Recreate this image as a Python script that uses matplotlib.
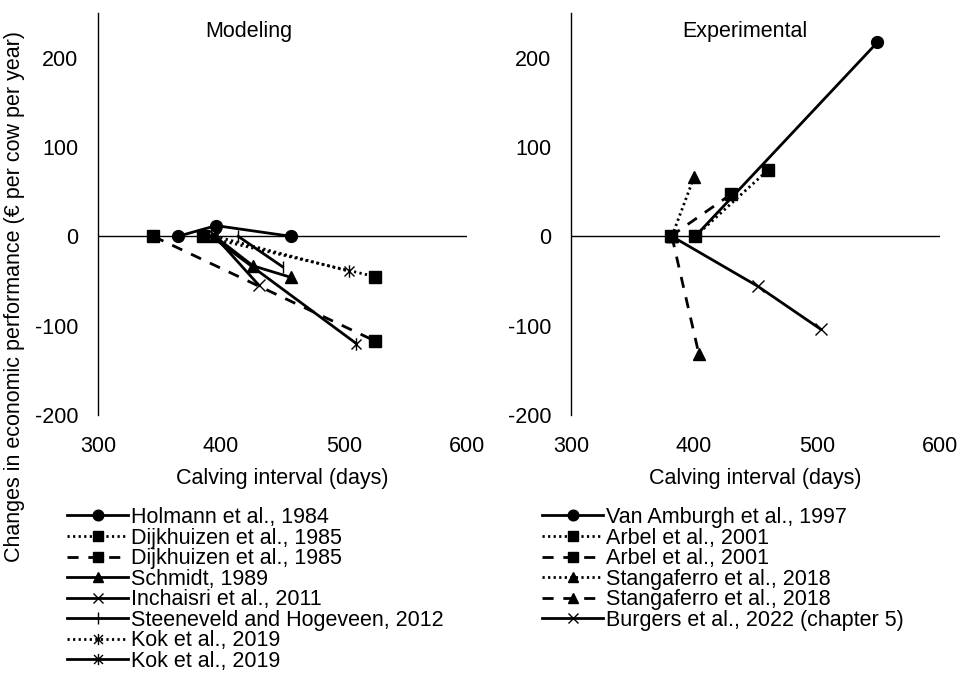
import matplotlib
matplotlib.use("Agg")
import matplotlib.pyplot as plt
from matplotlib.path import Path

plt.rcParams['font.family'] = ['Liberation Sans', 'DejaVu Sans']
plt.rcParams['axes.unicode_minus'] = False

# ---------------- data ----------------
x_ticks = [300, 400, 500, 600]
y_ticks = [-200, -100, 0, 100, 200]

# Modeling panel
holmann_x = [365, 396, 457]
holmann_y = [0, 12, 0]
dijk_dot_x = [385, 525]
dijk_dot_y = [0, -45]
dijk_dash_x = [345, 525]
dijk_dash_y = [0, -117]
schmidt_x = [395, 426, 457]
schmidt_y = [0, -33, -46]
inchaisri_x = [395, 431]
inchaisri_y = [0, -55]
steeneveld_x = [414, 450]
steeneveld_y = [0, -34]
kok_dot_x = [395, 504]
kok_dot_y = [0, -39]
kok_sol_x = [392, 510]
kok_sol_y = [0, -120]

# Experimental panel
vanamb_x = [401, 549]
vanamb_y = [0, 217]
arbel_dot_x = [401, 460]
arbel_dot_y = [0, 74]
arbel_dash_x = [381, 430]
arbel_dash_y = [0, 47]
stang_dot_x = [382, 400]
stang_dot_y = [0, 66]
stang_dash_x = [382, 404]
stang_dash_y = [0, -132]
burgers_x = [382, 452, 503]
burgers_y = [0, -56, -104]

model_labels = ["Holmann et al., 1984", "Dijkhuizen et al., 1985", "Dijkhuizen et al., 1985",
                "Schmidt, 1989", "Inchaisri et al., 2011", "Steeneveld and Hogeveen, 2012",
                "Kok et al., 2019", "Kok et al., 2019"]
exp_labels = ["Van Amburgh et al., 1997", "Arbel et al., 2001", "Arbel et al., 2001",
              "Stangaferro et al., 2018", "Stangaferro et al., 2018", "Burgers et al., 2022 (chapter 5)"]

# ---------------- styles ----------------
star = Path([(0, -1), (0, 1), (-0.8, -0.8), (0.8, 0.8), (-0.8, 0.8), (0.8, -0.8)],
            [Path.MOVETO, Path.LINETO, Path.MOVETO, Path.LINETO, Path.MOVETO, Path.LINETO])
DOT = (0, (0.8, 1.2))
DASH = (0, (4, 3.5))
LW = 2.0
FS = 15.5

fig = plt.figure(figsize=(9.66, 6.82), dpi=100)
axL = fig.add_axes([98/966, 1-415/682, 369/966, 402/682])
axR = fig.add_axes([571/966, 1-415/682, 369/966, 402/682])

def style_axis(ax):
    ax.set_xlim(300, 600)
    ax.set_ylim(-200, 250)
    ax.set_xticks(x_ticks)
    ax.set_yticks(y_ticks)
    for s in ['top', 'right', 'bottom']:
        ax.spines[s].set_visible(False)
    ax.spines['left'].set_linewidth(1.0)
    ax.axhline(0, color='black', lw=1.0, zorder=1)
    ax.tick_params(axis='both', length=0, labelsize=FS)
    ax.tick_params(axis='x', pad=15)
    ax.tick_params(axis='y', pad=14)
    ax.set_xlabel("Calving interval (days)", fontsize=FS, labelpad=8)

style_axis(axL)
style_axis(axR)

def plot(ax, x, y, ls, marker, label, ms=8, mew=1.0):
    return ax.plot(x, y, color='black', lw=LW, linestyle=ls, marker=marker, ms=ms,
                   mfc='black', mec='black', mew=mew, label=label, zorder=3)[0]

hL = []
hL.append(plot(axL, holmann_x, holmann_y, '-', 'o', model_labels[0], ms=8.5))
hL.append(plot(axL, dijk_dot_x, dijk_dot_y, DOT, 's', model_labels[1], ms=8.5))
hL.append(plot(axL, dijk_dash_x, dijk_dash_y, DASH, 's', model_labels[2], ms=8.5))
hL.append(plot(axL, schmidt_x, schmidt_y, '-', '^', model_labels[3], ms=8.5))
hL.append(plot(axL, inchaisri_x, inchaisri_y, '-', 'x', model_labels[4], ms=8))
hL.append(plot(axL, steeneveld_x, steeneveld_y, '-', '|', model_labels[5], ms=9))
hL.append(plot(axL, kok_dot_x, kok_dot_y, DOT, star, model_labels[6], ms=9))
hL.append(plot(axL, kok_sol_x, kok_sol_y, '-', star, model_labels[7], ms=9))

hR = []
hR.append(plot(axR, vanamb_x, vanamb_y, '-', 'o', exp_labels[0], ms=8.5))
hR.append(plot(axR, arbel_dot_x, arbel_dot_y, DOT, 's', exp_labels[1], ms=8.5))
hR.append(plot(axR, arbel_dash_x, arbel_dash_y, DASH, 's', exp_labels[2], ms=8.5))
hR.append(plot(axR, stang_dot_x, stang_dot_y, DOT, '^', exp_labels[3], ms=8.5))
hR.append(plot(axR, stang_dash_x, stang_dash_y, DASH, '^', exp_labels[4], ms=8.5))
hR.append(plot(axR, burgers_x, burgers_y, '-', 'x', exp_labels[5], ms=8))

axL.text(0.409, 0.955, "Modeling", transform=axL.transAxes, ha='center', va='center', fontsize=FS)
axR.text(0.472, 0.955, "Experimental", transform=axR.transAxes, ha='center', va='center', fontsize=FS)

fig.text(15/966, 1-297/682, "Changes in economic performance (€ per cow per year)",
         rotation=90, ha='center', va='center', fontsize=FS)

leg_kw = dict(frameon=False, fontsize=FS, numpoints=1, handlelength=2.85, handletextpad=0.1,
              labelspacing=-0.02, borderpad=0, borderaxespad=0, loc='upper left',
              markerscale=0.9)
fig.legend(handles=hL, bbox_to_anchor=(67/966, 1-507/682), **leg_kw)
fig.legend(handles=hR, bbox_to_anchor=(542/966, 1-507/682), **leg_kw)

fig.savefig("out.png", dpi=100)
